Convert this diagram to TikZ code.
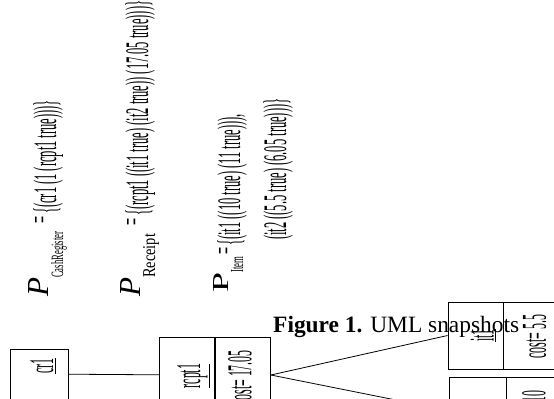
\documentclass[tikz,border=0pt]{standalone}
\usepackage{fontspec}
\setmainfont{Liberation Serif}
\newfontfamily\snapfont[FakeStretch=0.38]{Liberation Serif}
\newfontfamily\lblfont[FakeStretch=0.34]{Liberation Serif}
\usepackage{graphicx}
\usetikzlibrary{positioning}
\newcommand{\subbox}[3][7bp]{\raisebox{-#1}{\resizebox{#3}{12bp}{#2}}}

\begin{document}
\begin{tikzpicture}[
 x=1bp, y=-1bp, node distance=0pt,
 box/.style={draw, line width=0.9bp, inner sep=0pt, minimum height=67bp},
 obj/.style={box, minimum width=55bp}, attr/.style={box, minimum width=66bp},
 objlbl/.style={rotate=90, anchor=base, inner sep=0pt, font=\lblfont\fontsize{35}{40}\selectfont},
 pred/.style={rotate=90, anchor=base west, inner sep=0pt, font=\snapfont\fontsize{33}{40}\selectfont},
 every edge/.style={draw, line width=0.8bp}]
\useasboundingbox (0,0) rectangle (554,398);
\clip (0,0) rectangle (554,398);
% snapshot predicates
\node[pred] (pcash) at (56,297) {\raisebox{8bp}{\resizebox{19bp}{20bp}{\rmfamily\itshape P}}\subbox{CashRegister}{46bp}\hspace{8bp}\raisebox{6bp}{=}\hspace{3bp}\{(cr1 (1 (rcpt1 true)))\}};
\node[pred] (prcpt) at (148,297) {\raisebox{8bp}{\resizebox{19bp}{20bp}{\rmfamily\itshape P}}\subbox{Receipt}{44bp}\hspace{8bp}\raisebox{6bp}{=}\hspace{3bp}\{(rcpt1 ((it1 true) (it2 true)) (17.05 true)))\}};
\node[pred] (pitem) at (240,293) {\raisebox{12bp}{\resizebox{20bp}{15bp}{\rmfamily P}}\subbox[3bp]{Item}{16bp}\hspace{2bp}\raisebox{6bp}{=}\hspace{2bp}\{(it1 ((10 true) (11 true))),};
\node[pred] (pitemb) at (286,240) {(it2 ((5.5 true) (6.05 true)))\}};
% object boxes
\node[box, minimum width=58bp, minimum height=50bp] (cr1) at (39,374) {};
\node[obj, minimum height=76bp] (rcpt1) at (187,375) {};
\node[attr, minimum width=55bp, minimum height=76bp, right=of rcpt1] (rcpt1cost) {};
\node[obj] (it1) at (475.5,335.5) {};
\node[attr, right=of it1] (it1cost) {};
\node[obj, minimum width=57bp] (it2) at (477.5,410.5) {};
\node[attr, right=of it2] (it2cost) {};
\node[objlbl] (cr1lbl) at ([xshift=14bp, yshift=8bp]cr1.center) {\underline{cr1}};
\node[objlbl] (rcpt1lbl) at ([xshift=13bp, yshift=-1bp]rcpt1.center) {\underline{rcpt1}};
\node[objlbl] (rcpt1val) at ([xshift=8.5bp, yshift=-3bp]rcpt1cost.center) {cost= 17.05};
\node[objlbl] (it1lbl) at ([xshift=18bp]it1.center) {\underline{it1}};
\node[objlbl] (it1val) at ([xshift=9bp, yshift=-1bp]it1cost.center) {cost= 5.5};
\node[objlbl] (it2lbl) at ([xshift=18bp]it2.center) {\underline{it2}};
\node[objlbl] (it2val) at ([xshift=5.5bp]it2cost.center) {cost= 10};
\draw (cr1) edge (rcpt1) (rcpt1cost.east) edge (it1.west) (rcpt1cost.east) edge (it2.west);
% caption
\node[anchor=base west, inner sep=0pt, font=\fontsize{23.5}{28}\selectfont] (caption) at (273,332) {\textbf{Figure 1.} UML snapshots};
\end{tikzpicture}
\end{document}
